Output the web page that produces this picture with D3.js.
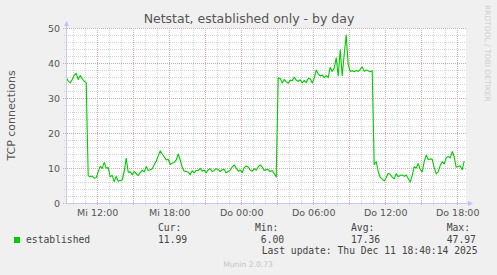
<!DOCTYPE html>
<html>
<head>
<meta charset="utf-8">
<script src="https://cdn.jsdelivr.net/npm/d3@7"></script>
<style>
  html, body { margin: 0; padding: 0; background: #f0f0f0; }
  svg { display: block; }
  text { font-family: "DejaVu Sans", sans-serif; }
  .mono { font-family: "DejaVu Sans Mono", monospace; }
</style>
</head>
<body>
<div id="chart-mount"></div>
<script>
var WIDTH = 497;
var HEIGHT = 275;
var X0 = 66;
var Y0 = 203;
var PLOT_W = 400;
var PLOT_H = 175;
var LINE_COLOR = '#00cc00';

// time window of the graph (5 min per pixel)
var START = new Date(2025, 11, 10, 9, 24);
var END = new Date(2025, 11, 11, 18, 44);

// samples, one every 10 minutes from SAMPLE_START
var SAMPLE_START = new Date(2025, 11, 10, 9, 25);
var SAMPLE_STEP_MIN = 10;
var established = [
  36.0, 34.8, 34.3, 35.3, 36.5, 37.0, 35.3, 36.4, 35.5, 34.8,
  34.4, 7.8, 7.5, 7.7, 7.1, 7.2, 8.9, 10.5, 9.9, 11.6,
  10.0, 10.1, 7.5, 7.9, 6.1, 7.6, 6.2, 6.4, 6.6, 9.0,
  12.8, 8.8, 8.9, 8.1, 9.0, 8.4, 7.8, 8.7, 9.4, 8.9,
  10.4, 9.3, 9.5, 9.8, 10.9, 12.0, 13.4, 14.9, 14.0, 13.2,
  12.3, 12.5, 11.0, 11.4, 11.6, 12.3, 14.0, 12.3, 10.2, 9.1,
  9.0, 8.8, 8.1, 9.2, 8.6, 9.3, 9.3, 9.9, 9.1, 9.4,
  8.6, 9.5, 9.8, 9.0, 9.3, 9.8, 9.6, 9.0, 9.5, 9.6,
  8.6, 9.0, 9.4, 10.3, 10.9, 10.0, 9.1, 9.4, 8.7, 10.1,
  10.6, 10.3, 9.4, 9.1, 9.8, 9.4, 10.3, 10.9, 10.3, 9.3,
  9.6, 9.5, 9.0, 9.3, 8.4, 7.4, 35.8, 35.6, 34.3, 35.3,
  34.6, 34.2, 35.1, 34.9, 36.0, 35.1, 34.8, 35.2, 34.3, 35.0,
  34.4, 35.6, 35.5, 34.3, 35.6, 38.0, 36.9, 36.3, 36.6, 35.8,
  36.4, 35.8, 38.8, 37.6, 38.5, 41.5, 36.3, 43.8, 36.4, 42.5,
  47.97, 39.5, 37.6, 37.8, 37.5, 37.9, 37.6, 38.2, 38.9, 37.6,
  38.0, 37.8, 37.5, 37.8, 11.0, 11.8, 9.0, 7.3, 6.8, 6.3,
  7.3, 8.5, 8.2, 7.4, 6.9, 8.4, 7.5, 7.9, 8.0, 7.6,
  8.0, 7.0, 6.0, 7.8, 10.4, 10.0, 11.3, 9.6, 8.9, 11.8,
  13.7, 12.4, 12.6, 12.5, 10.1, 8.3, 8.9, 10.7, 11.8, 11.2,
  12.9, 13.3, 12.9, 14.7, 13.2, 10.2, 10.5, 10.6, 9.5, 11.99
];

var Y_DOMAIN = [0, 50];
var Y_TICKS = [0, 10, 20, 30, 40, 50];
var DAY_NAMES = ['So', 'Mo', 'Di', 'Mi', 'Do', 'Fr', 'Sa'];

var TITLE = 'Netstat, established only - by day';
var Y_LABEL = 'TCP connections';
var SERIES_NAME = 'established';
var LEGEND_HEADERS = ['Cur:', 'Min:', 'Avg:', 'Max:'];
var LEGEND_VALUES = ['11.99', '6.00', '17.36', '47.97'];
var LAST_UPDATE = 'Last update: Thu Dec 11 18:40:14 2025';
var WATERMARK = 'RRDTOOL / TOBI OETIKER';
var FOOTER = 'Munin 2.0.73';

var $svg = d3.select('#chart-mount').append('svg')
  .attr('width', WIDTH)
  .attr('height', HEIGHT);

var x = d3.scaleTime().domain([START, END]).range([X0, X0 + PLOT_W]);
var y = d3.scaleLinear().domain(Y_DOMAIN).range([Y0, Y0 - PLOT_H]);

function samples () {
  return established.map(function (v, i) {
    return { t: d3.timeMinute.offset(SAMPLE_START, i * SAMPLE_STEP_MIN), v: v };
  });
}

function drawCanvas () {
  $svg.append('rect')
    .attr('width', WIDTH).attr('height', HEIGHT)
    .attr('fill', '#f0f0f0');
  $svg.append('rect')
    .attr('x', X0).attr('y', Y0 - PLOT_H)
    .attr('width', PLOT_W).attr('height', PLOT_H)
    .attr('fill', '#ffffff');
}

function drawGrid () {
  var hours = x.ticks(d3.timeHour.every(1));
  var minorH = d3.range(Y_DOMAIN[0], Y_DOMAIN[1] + 1, 2);
  var g = $svg.append('g').attr('shape-rendering', 'crispEdges');

  // minor lines first, major (red) on top
  g.selectAll('line.vminor')
    .data(hours.filter(function (d) { return d.getHours() % 3 !== 0; }))
    .enter().append('line')
      .attr('x1', function (d) { return Math.round(x(d)) + 0.5; })
      .attr('x2', function (d) { return Math.round(x(d)) + 0.5; })
      .attr('y1', Y0 - PLOT_H).attr('y2', Y0 + 2)
      .attr('stroke', '#d4d4d4')
      .attr('stroke-dasharray', '1,1');

  g.selectAll('line.hminor')
    .data(minorH.filter(function (d) { return d % 10 !== 0; }))
    .enter().append('line')
      .attr('y1', function (d) { return Math.round(y(d)) + 0.5; })
      .attr('y2', function (d) { return Math.round(y(d)) + 0.5; })
      .attr('x1', X0 - 2).attr('x2', X0 + PLOT_W)
      .attr('stroke', '#d4d4d4')
      .attr('stroke-dasharray', '1,1');

  g.selectAll('line.vmajor')
    .data(hours.filter(function (d) { return d.getHours() % 3 === 0; }))
    .enter().append('line')
      .attr('x1', function (d) { return Math.round(x(d)) + 0.5; })
      .attr('x2', function (d) { return Math.round(x(d)) + 0.5; })
      .attr('y1', Y0 - PLOT_H).attr('y2', Y0 + 3)
      .attr('stroke', '#eaa4a4')
      .attr('stroke-dasharray', '1,1');

  g.selectAll('line.hmajor')
    .data(Y_TICKS)
    .enter().append('line')
      .attr('y1', function (d) { return Math.round(y(d)) + 0.5; })
      .attr('y2', function (d) { return Math.round(y(d)) + 0.5; })
      .attr('x1', X0 - 3).attr('x2', X0 + PLOT_W)
      .attr('stroke', '#eaa4a4')
      .attr('stroke-dasharray', '1,1');
}

function drawSeries () {
  var line = d3.line()
    .x(function (d) { return x(d.t); })
    .y(function (d) { return y(d.v); });
  $svg.append('path')
    .datum(samples())
    .attr('d', line)
    .attr('fill', 'none')
    .attr('stroke', LINE_COLOR)
    .attr('stroke-width', 1.1)
    .attr('stroke-linejoin', 'round');
}

function drawAxes () {
  var g = $svg.append('g');
  g.append('line')
    .attr('x1', X0 - 0.5).attr('x2', X0 + PLOT_W + 3)
    .attr('y1', Y0 + 0.5).attr('y2', Y0 + 0.5)
    .attr('stroke', '#c8c8f0');
  g.append('line')
    .attr('x1', X0 + 0.5).attr('x2', X0 + 0.5)
    .attr('y1', Y0 + 0.5).attr('y2', Y0 - PLOT_H - 3)
    .attr('stroke', '#c8c8f0');
  g.append('path')
    .attr('d', 'M' + (X0 + PLOT_W + 2) + ',' + (Y0 - 2) +
      'L' + (X0 + PLOT_W + 7) + ',' + (Y0 + 0.5) +
      'L' + (X0 + PLOT_W + 2) + ',' + (Y0 + 3) + 'Z')
    .attr('fill', '#b8c4f4');
  g.append('path')
    .attr('d', 'M' + (X0 - 2) + ',' + (Y0 - PLOT_H - 2) +
      'L' + (X0 + 0.5) + ',' + (Y0 - PLOT_H - 7) +
      'L' + (X0 + 3) + ',' + (Y0 - PLOT_H - 2) + 'Z')
    .attr('fill', '#b8c4f4');

  var labelTicks = x.ticks(d3.timeHour.every(6));
  var xAxis = d3.axisBottom(x)
    .tickValues(labelTicks)
    .tickSize(0)
    .tickFormat(function (d) {
      return DAY_NAMES[d.getDay()] + ' ' + d3.timeFormat('%H:%M')(d);
    });
  var gx = $svg.append('g')
    .attr('transform', 'translate(0,' + (Y0 + 13) + ')')
    .call(xAxis);
  gx.select('.domain').remove();
  gx.selectAll('text')
    .attr('y', 0).attr('dy', 0)
    .attr('fill', '#555')
    .style('font-family', '"DejaVu Sans", sans-serif')
    .style('font-size', '9.5px');

  var yAxis = d3.axisLeft(y)
    .tickValues(Y_TICKS)
    .tickSize(0)
    .tickPadding(6);
  var gy = $svg.append('g')
    .attr('transform', 'translate(' + X0 + ',0)')
    .call(yAxis);
  gy.select('.domain').remove();
  gy.selectAll('text')
    .attr('fill', '#555')
    .style('font-family', '"DejaVu Sans", sans-serif')
    .style('font-size', '9.5px');
}

function drawTexts () {
  $svg.append('text')
    .attr('x', 249).attr('y', 23)
    .attr('text-anchor', 'middle')
    .attr('fill', '#555')
    .style('font-size', '12.5px')
    .text(TITLE);

  $svg.append('text')
    .attr('transform', 'translate(15,' + (Y0 - PLOT_H / 2) + ') rotate(-90)')
    .attr('text-anchor', 'middle')
    .attr('fill', '#555')
    .style('font-size', '11px')
    .text(Y_LABEL);

  $svg.append('text')
    .attr('transform', 'translate(485,5) rotate(90)')
    .attr('fill', '#cfcfcf')
    .style('font-size', '7.5px')
    .text(WATERMARK);

  $svg.append('text')
    .attr('x', 248).attr('y', 267)
    .attr('text-anchor', 'middle')
    .attr('fill', '#c4c4c4')
    .style('font-size', '7.6px')
    .text(FOOTER);
}

function drawLegend () {
  var colX = [158, 255, 351, 446.7];
  var g = $svg.append('g')
    .attr('class', 'mono')
    .attr('fill', '#444')
    .style('font-size', '9.7px');

  $svg.append('rect')
    .attr('x', 14).attr('y', 237)
    .attr('width', 6).attr('height', 6)
    .attr('fill', LINE_COLOR);

  g.append('text').attr('class', 'mono')
    .attr('x', 26).attr('y', 243)
    .text(SERIES_NAME);

  g.selectAll('text.head')
    .data(LEGEND_HEADERS)
    .enter().append('text')
      .attr('class', 'mono head')
      .attr('x', function (d, i) { return colX[i]; })
      .attr('y', 231)
      .text(function (d) { return d; });

  g.selectAll('text.val')
    .data(LEGEND_VALUES)
    .enter().append('text')
      .attr('class', 'mono val')
      .attr('x', function (d, i) { return colX[i] + 29.2; })
      .attr('y', 243)
      .attr('text-anchor', 'end')
      .text(function (d) { return d; });

  g.append('text').attr('class', 'mono')
    .attr('x', 261.7).attr('y', 254)
    .text(LAST_UPDATE);
}

drawCanvas();
drawGrid();
drawSeries();
drawAxes();
drawTexts();
drawLegend();
</script>
</body>
</html>
